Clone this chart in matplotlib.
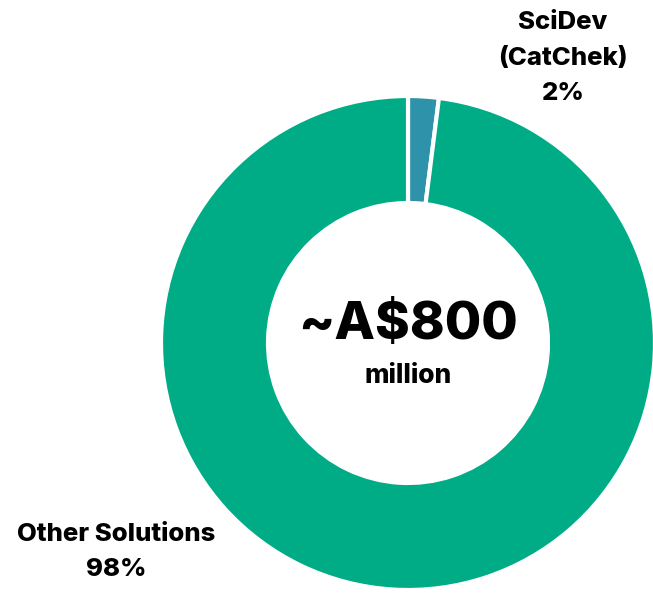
import matplotlib
matplotlib.use("Agg")
import matplotlib.pyplot as plt

# market share split
labels = ["SciDev\n(CatChek)", "Other Solutions"]
shares = [2, 98]
colors = ["#2E93AA", "#00AC86"]
total_text = "~A$800"
total_unit = "million"

plt.rcParams['font.family'] = ['Inter', 'DejaVu Sans']

W, H = 653, 593
fig = plt.figure(figsize=(W / 100, H / 100), dpi=100)
ax = fig.add_axes([0, 0, 1, 1])
ax.set_xlim(0, W)
ax.set_ylim(0, H)
ax.set_aspect('equal')
ax.axis('off')

cx, cy = 408, H - 343
r_out, r_in = 247, 140

ax.pie(shares, colors=colors, startangle=90, counterclock=False,
       center=(cx, cy), radius=r_out,
       wedgeprops=dict(width=r_out - r_in, edgecolor='white', linewidth=3))
ax.set_xlim(0, W)
ax.set_ylim(0, H)

# centre total
ax.text(cx, H - 326, total_text, ha='center', va='center',
        fontsize=38, fontweight='heavy', color='black')
ax.text(cx, H - 376, total_unit, ha='center', va='center',
        fontsize=19, fontweight='heavy', color='black')

# slice labels
ax.text(563, H - 58, f"{labels[0]}\n{shares[0]}%", ha='center', va='center',
        fontsize=18.5, fontweight='heavy', linespacing=1.7)
ax.text(116, H - 552, f"{labels[1]}\n{shares[1]}%", ha='center', va='center',
        fontsize=18.5, fontweight='heavy', linespacing=1.7)

fig.savefig("out.png", dpi=100)
